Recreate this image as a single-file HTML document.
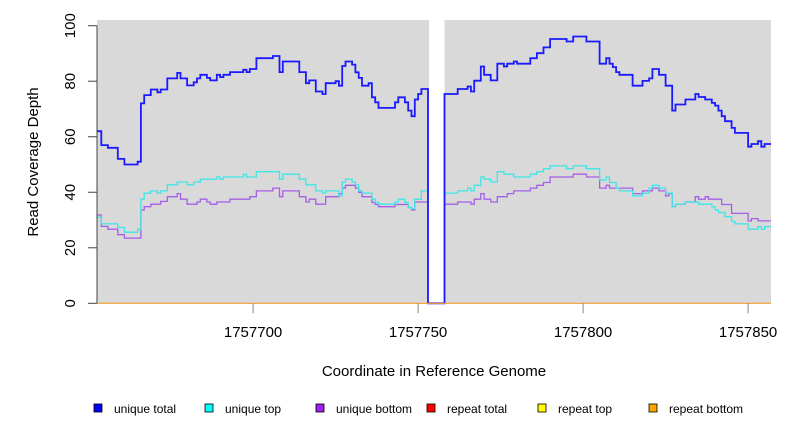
<!DOCTYPE html>
<html><head><meta charset="utf-8">
<style>
html,body{margin:0;padding:0;background:#fff;}
svg{display:block;font-family:"Liberation Sans",Arial,sans-serif;}
</style></head>
<body>
<svg id="chart" width="792" height="432" viewBox="0 0 792 432" xmlns="http://www.w3.org/2000/svg"></svg>
<script>
// genome coordinates are offsets from 1757600
const BASE = 1757600;
const totalStarts = [52,54,56,59,61,65,66,67,69,71,72,74,77,78,80,82,83,84,86,87,89,90,91,93,97,98,99,101,106,108,109,114,116,117,119,121,122,125,126,127,128,130,131,132,133,135,136,137,138,143,144,146,147,148,149,150,151,153,158,162,165,166,167,169,170,172,174,176,177,179,180,184,186,188,190,195,197,201,205,207,208,209,210,211,215,218,220,221,223,225,227,228,231,234,235,237,239,240,241,242,243,245,246,250,251,253,254,255];
const totalValues = [62,57,56,52,50,51,72,75,77,76,77,81,83,81,78.5,79.6,81,82.3,81.2,80.3,82.3,81.5,82.3,83.3,84.1,83.3,84.4,88.3,89.1,83.3,87.1,83.3,79.3,80.3,76.3,75.4,79.3,80,78.4,85.5,87.1,86,83.2,81.2,78.4,79.3,74.2,72.4,70.4,72.4,74.2,72.4,69.4,67.4,73.4,75.4,77.2,0,75.4,77.2,78.1,76.3,80.2,85.3,82.3,80.3,86.3,85.3,86.3,87.1,86.3,88.3,90.1,92.2,95.2,94.3,96.1,94.3,86.3,88.3,86.3,85.1,83.3,82.3,78.4,80.1,81,84.4,82.3,78.4,69.4,71.6,73.4,75.4,74.3,73.4,72.2,71.2,69.4,67.4,65.6,63.2,61.4,56.4,57.4,58.4,56.4,57.4];
const topStarts = [52,54,59,61,65,66,67,69,71,72,74,77,80,82,84,89,90,91,97,98,101,108,109,114,116,119,121,122,126,127,128,130,131,132,133,136,137,138,143,144,146,147,148,149,151,153,158,162,165,166,167,169,170,172,174,176,179,184,186,188,190,195,197,201,205,207,208,210,211,215,218,220,221,223,225,227,228,231,235,239,240,241,243,245,246,250,253,254,255];
const topValues = [31,28.6,27.3,25.6,26.7,37.5,39.7,40.5,39.7,40.5,42.7,43.7,42.7,43.7,44.7,45.5,44.7,45.5,46.5,45.5,47.4,44.7,46.5,44.7,42.7,40.5,39.7,40.5,38.7,43.7,44.7,43.7,42.7,40.5,39.7,37.5,36.3,35.7,36.5,37.5,36.3,34.5,34.0,37.5,40.5,null,39.7,40.5,41.5,40.5,42.5,45.5,44.7,43.7,47.4,46.5,45.5,46.5,47.4,48.5,49.5,48.5,49.5,48.5,44.4,45.5,43.5,41.5,40.5,38.7,39.7,41.5,42.5,41.5,39.7,34.8,35.7,36.5,35.7,34.8,33.6,32.7,31.2,29.5,28.6,26.7,27.6,26.7,27.6];
const bottomStarts = [52,54,56,59,61,66,67,69,72,74,77,78,80,83,84,86,87,89,93,99,101,106,108,109,114,116,117,119,122,126,127,128,131,132,133,136,137,138,143,147,148,149,153,158,162,166,167,169,170,172,174,177,179,184,186,188,190,197,201,205,207,208,215,218,221,223,225,226,227,228,231,234,235,237,238,242,245,250,251,253];
const bottomValues = [31.8,27.7,26.7,24.7,23.5,33.6,34.8,35.7,36.7,38.4,39.5,37.5,35.7,36.5,37.5,36.5,35.7,36.5,37.5,38.4,40.5,41.5,38.4,40.5,38.4,36.5,37.5,35.7,38.4,39.5,41.5,42.5,41.5,40,38.4,36.3,35.6,34.8,35.6,34.5,33.6,36.5,null,35.7,36.5,35.7,37.5,39.5,37.5,36.5,38.4,39.5,40.5,41.5,42.5,43.5,45.5,46.5,45.5,41.5,42.5,41.5,39.5,40.5,41.5,40.5,38.7,39.5,34.8,35.7,36.5,38.4,37.5,38.4,37.5,35.6,32.4,29.7,30.5,29.7];
const seriesEnd = 257;
const yTicks = [0,20,40,60,80,100];
const xTicks = [1757700,1757750,1757800,1757850];
const legendLabels = ["unique total","unique top","unique bottom","repeat total","repeat top","repeat bottom"];
const legendColors = ["#0000ff","#00ffff","#a020f0","#ff0000","#ffff00","#ffa500"];

const NS="http://www.w3.org/2000/svg";
const svg=document.getElementById('chart');
const PL=97, PR=771, PT=20, PB=303.3;
const X0=BASE+52.7, XPX=3.3;
function xs(c){return PL+(c-X0)*XPX;}
function ys(v){return PB - v*2.776;}
function el(tag,attrs,parent){const e=document.createElementNS(NS,tag);for(const k in attrs)e.setAttribute(k,attrs[k]);(parent||svg).appendChild(e);return e;}

const bg=el('rect',{x:PL,y:PT,width:PR-PL,height:PB-PT,fill:'#d9d9d9'});


// white gap where there is no data
const gap=el('rect',{x:xs(BASE+153)+1,y:PT,width:xs(BASE+158)-xs(BASE+153)-1,height:PB-PT,fill:'#ffffff'});



const clip=el('clipPath',{id:'pc'});
el('rect',{x:PL,y:PT-2,width:PR-PL,height:PB-PT+4},clip);

function stepPath(starts,vals){
  let d='',pen=false;
  for(let i=0;i<starts.length;i++){
    const v=vals[i];
    const x1=xs(BASE+starts[i]);
    const x2=xs(BASE+(i+1<starts.length?starts[i+1]:seriesEnd));
    if(v===null){pen=false;continue;}
    const y=ys(v);
    if(!pen){d+='M'+x1.toFixed(1)+' '+y.toFixed(1);pen=true;}
    else d+='L'+x1.toFixed(1)+' '+y.toFixed(1);
    d+='L'+x2.toFixed(1)+' '+y.toFixed(1);
  }
  return d;
}
const g=el('g',{'clip-path':'url(#pc)'});
const pb=el('path',{d:stepPath(bottomStarts,bottomValues),fill:'none',stroke:'#a55ee8',"stroke-width":1.3},g);


const pt=el('path',{d:stepPath(topStarts,topValues),fill:'none',stroke:'#3ee6e6',"stroke-width":1.3},g);


const ptot=el('path',{d:stepPath(totalStarts,totalValues),fill:'none',stroke:'#1a1aff',"stroke-width":1.8},g);


const rep=el('line',{x1:PL,x2:PR,y1:PB,y2:PB,stroke:'#f5a030',"stroke-width":1.2});



// y axis
const yax=el('line',{x1:PL,x2:PL,y1:ys(100),y2:PB,stroke:'#444',"stroke-width":1});


yTicks.forEach(t=>{
  const tk=el('line',{x1:PL-9,x2:PL,y1:ys(t),y2:ys(t),stroke:'#444'});
  
  
  const tx=el('text',{x:0,y:0,transform:`translate(75,${ys(t)}) rotate(-90)`,"text-anchor":"middle","font-size":15,fill:'#000'});
  tx.textContent=t;
  
  
});
xTicks.forEach(t=>{
  const tk=el('line',{x1:xs(t),x2:xs(t),y1:PB,y2:PB+10,stroke:'#888'});
  
  
  const tx=el('text',{x:xs(t),y:337,"text-anchor":"middle","font-size":15,fill:'#000'});
  tx.textContent=t;
  
  
});
const xt=el('text',{x:434,y:376,"text-anchor":"middle","font-size":15});
xt.textContent='Coordinate in Reference Genome';


const yt=el('text',{x:0,y:0,transform:'translate(38,162) rotate(-90)',"text-anchor":"middle","font-size":15});
yt.textContent='Read Coverage Depth';



legendLabels.forEach((lab,i)=>{
  const x=94+i*111;
  const gg=el('g',{});
  
  
  el('rect',{x:x,y:404,width:8,height:8,fill:legendColors[i],stroke:'#000',"stroke-width":0.8},gg);
  const t=el('text',{x:x+20,y:413,"font-size":12},gg);
  t.textContent=lab;
});
</script>
</body></html>
